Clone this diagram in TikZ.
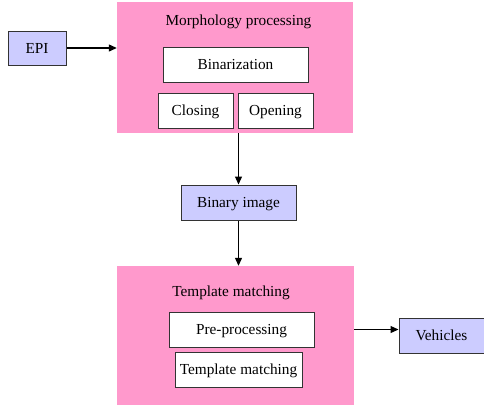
\documentclass[tikz,border=0pt]{standalone}
\usepackage{fontspec}
\setmainfont{Liberation Serif}
\usetikzlibrary{arrows.meta}
\definecolor{pinkbg}{HTML}{FF99CC}
\definecolor{bluebox}{HTML}{CCCCFF}
\definecolor{edge}{HTML}{333333}
\tikzset{
  grp/.style={fill=pinkbg, draw=none, inner sep=0pt},
  wbox/.style={fill=white, draw=edge, line width=1pt, inner sep=0pt, text height=14pt, text depth=3.5pt, font=\fontsize{15.3}{17}\selectfont},
  bbox/.style={fill=bluebox, draw=edge, line width=1pt, inner sep=0pt, text height=14pt, text depth=3.5pt, font=\fontsize{15.3}{17}\selectfont},
  ttl/.style={inner sep=0pt, anchor=base, font=\fontsize{15.3}{17}\selectfont},
  arr/.style={line width=1.2pt, -{Triangle[length=8pt,width=7pt]}}
}
\begin{document}
\begin{tikzpicture}[x=1pt,y=-1pt]
\useasboundingbox (0,0) rectangle (484,410);
% groups
\node[grp, minimum width=236pt, minimum height=131pt] (morph) at (235,67.5) {};
\node[ttl] (morphttl) at (238.5,25.5) {Morphology processing};
\node[wbox, minimum width=145pt, minimum height=35pt] (binar) at (235.5,64.5) {Binarization};
\node[wbox, minimum width=75pt, minimum height=35pt] (closing) at (195.5,110.5) {Closing};
\node[wbox, minimum width=75pt, minimum height=35pt] (opening) at (275.5,110.5) {Opening};
\node[bbox, minimum width=58pt, minimum height=34pt] (epi) at (37,48) {EPI};
\node[bbox, minimum width=115pt, minimum height=35pt] (binimg) at (238.5,202.5) {Binary image};
\node[grp, minimum width=237pt, minimum height=139pt] (tmpl) at (235.5,335.5) {};
\node[ttl] (tmplttl) at (231,296) {Template matching};
\node[wbox, minimum width=145pt, minimum height=35pt] (pre) at (241.5,329.5) {Pre-processing};
\node[wbox, minimum width=127pt, minimum height=35pt] (tm) at (238.5,369.5) {Template matching};
\node[bbox, minimum width=85pt, minimum height=35pt] (veh) at (441.5,335.5) {Vehicles};
% connectors
\draw[arr] (epi.east) -- (epi.east -| morph.west);
\draw[arr] (binimg.north |- morph.south) -- (binimg.north);
\draw[arr] (binimg.south) -- (binimg.south |- tmpl.north);
\draw[arr] (pre.east -| tmpl.east) -- (pre.east -| veh.west);
\end{tikzpicture}
\end{document}
